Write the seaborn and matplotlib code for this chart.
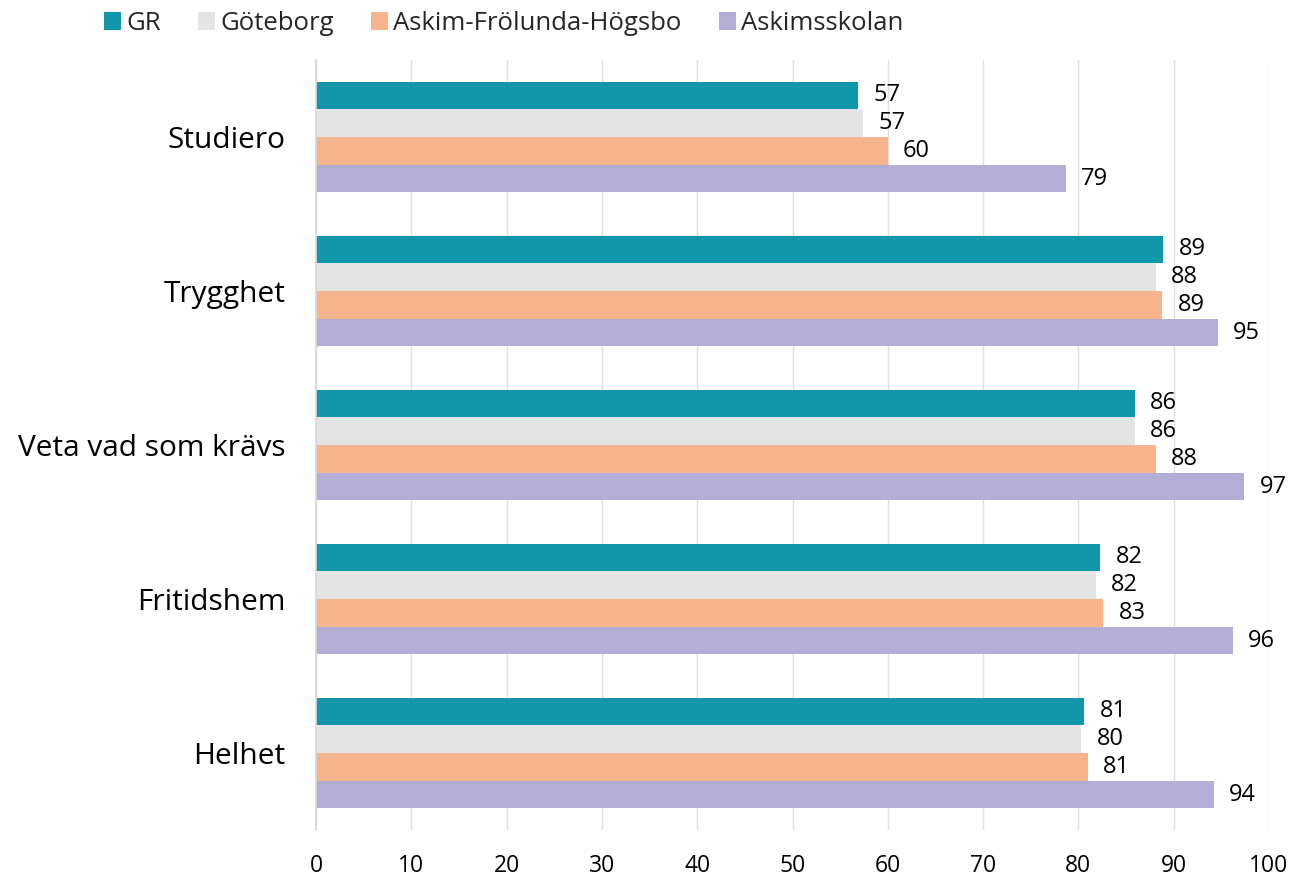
import matplotlib
matplotlib.use("Agg")
import matplotlib.pyplot as plt
import seaborn as sns
import pandas as pd
import numpy as np
from matplotlib.patches import Patch

categories = ["Studiero", "Trygghet", "Veta vad som krävs", "Fritidshem", "Helhet"]
series = ["GR", "Göteborg", "Askim-Frölunda-Högsbo", "Askimsskolan"]
gr = [56.9, 88.9, 85.9, 82.3, 80.6]
goteborg = [57.4, 88.1, 85.9, 81.8, 80.3]
askim_fh = [60.0, 88.8, 88.1, 82.6, 81.0]
askimsskolan = [78.7, 94.6, 97.4, 96.2, 94.2]
colors = ["#1197a9", "#e4e4e4", "#f7b38c", "#b3aed5"]
xticks = [0, 10, 20, 30, 40, 50, 60, 70, 80, 90, 100]

values = [gr, goteborg, askim_fh, askimsskolan]
rows = []
for s, vals in zip(series, values):
    for c, v in zip(categories, vals):
        rows.append({"Kategori": c, "Serie": s, "Värde": v})
df = pd.DataFrame(rows)

sns.set_theme(style="white")
plt.rcParams['font.family'] = ['Open Sans', 'DejaVu Sans']

fig = plt.figure(figsize=(12.91, 8.76), dpi=100)
ax = fig.add_axes([316/1291, 1-830/876, (1269-316)/1291, (830-60)/876])

sns.barplot(data=df, y="Kategori", x="Värde", hue="Serie", order=categories,
            hue_order=series, palette=colors, width=0.72, orient="h",
            ax=ax, legend=False, saturation=1, edgecolor="none")

for cont in ax.containers:
    labels = [f"{w:.0f}" for w in cont.datavalues]
    ax.bar_label(cont, labels=labels, padding=11, fontsize=17, color="#000000")

ax.set_xlim(0, 100)
ax.set_ylim(4.5, -0.5)
ax.set_xticks(xticks)
ax.set_xticklabels([str(t) for t in xticks], fontsize=16.5, color="#000000")
ax.set_xlabel("")
ax.set_ylabel("")
ax.tick_params(axis="y", which="major", length=0, labelsize=21.5, pad=22,
               labelcolor="#000000")
ax.set_yticks(np.arange(-0.5, 5.0, 1.0), minor=True)
ax.tick_params(axis="y", which="minor", length=8, color="#d9d9d9", width=1)
ax.tick_params(axis="x", length=0, pad=17)
ax.grid(axis="x", color="#e0e0e0", linewidth=1)
ax.set_axisbelow(True)
for sp in ["top", "right", "bottom"]:
    ax.spines[sp].set_visible(False)
ax.spines["left"].set_color("#d9d9d9")

handles = [Patch(facecolor=c, edgecolor="none", label=s) for c, s in zip(colors, series)]
fig.legend(handles=handles, loc="upper left", bbox_to_anchor=(104/1291, 1 - 11/876), ncol=4,
           frameon=False, fontsize=18.5, handlelength=0.66, handleheight=0.66,
           handletextpad=0.2, columnspacing=1.45, borderpad=0, borderaxespad=0)

fig.savefig("out.png", dpi=100)
